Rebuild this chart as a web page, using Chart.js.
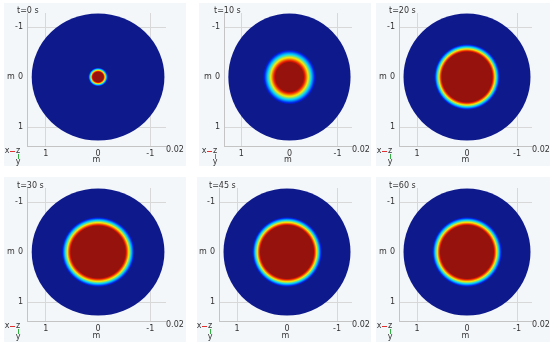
<!DOCTYPE html>
<html>
<head>
<meta charset="utf-8">
<script src="https://cdn.jsdelivr.net/npm/chart.js@4.4.1/dist/chart.umd.min.js"></script>
<style>
  html, body { margin: 0; padding: 0; background: #fff; }
  body { width: 550px; height: 345px; position: relative; overflow: hidden; }
  canvas { position: absolute; background: #f4f7fa; }
</style>
</head>
<body>
<script>
// values (lengths in units of 0.02 m)
const timeLabels = ['t=0 s', 't=10 s', 't=20 s', 't=30 s', 't=45 s', 't=60 s'];
const hotCoreRadius = [0.10, 0.29, 0.50, 0.52, 0.53, 0.53];
const hotEdgeRadius = [0.19, 0.55, 0.66, 0.70, 0.70, 0.70];
const diskRadius = 1.27;
const xTickValues = [1, 0, -1];
const yTickValues = [-1, 0, 1];
const lengthScale = '0.02';
const unitLabel = 'm';

// where each plot sits on the page
const panels = [
  {left: 4,   top: 3,   width: 182, height: 163, yw: 23, padTop: 10, padRight: 20, xh: 20},
  {left: 199, top: 3,   width: 172, height: 163, yw: 25, padTop: 10, padRight: 19, xh: 20},
  {left: 376, top: 3,   width: 174, height: 163, yw: 23, padTop: 10, padRight: 18, xh: 20},
  {left: 4,   top: 177, width: 182, height: 165, yw: 23, padTop: 11, padRight: 20, xh: 21},
  {left: 197, top: 177, width: 174, height: 165, yw: 22, padTop: 11, padRight: 19, xh: 21},
  {left: 376, top: 177, width: 174, height: 165, yw: 23, padTop: 11, padRight: 18, xh: 21}
];

const FONT = 'DejaVu Sans';
const TEXT = '#333';

// rainbow colour table, 0 = cold, 1 = hot
const jetStops = [
  [0.000, [14, 26, 140]],
  [0.125, [0, 30, 235]],
  [0.375, [0, 215, 255]],
  [0.625, [250, 235, 0]],
  [0.875, [235, 25, 0]],
  [1.000, [150, 18, 12]]
];

function jet(t) {
  for (let k = 1; k < jetStops.length; k++) {
    if (t <= jetStops[k][0]) {
      const [t0, c0] = jetStops[k - 1];
      const [t1, c1] = jetStops[k];
      const f = (t - t0) / (t1 - t0);
      const c = c0.map((v, j) => Math.round(v + (c1[j] - v) * f));
      return `rgb(${c[0]},${c[1]},${c[2]})`;
    }
  }
  const c = jetStops[jetStops.length - 1][1];
  return `rgb(${c[0]},${c[1]},${c[2]})`;
}

function heatDisk(i) {
  return {
    id: 'heatDisk',
    beforeDatasetsDraw(chart) {
      const {ctx, scales: {x, y}} = chart;
      const pt = chart.getDatasetMeta(0).data[0];
      const rx = Math.abs(x.getPixelForValue(diskRadius) - x.getPixelForValue(0));
      const ry = Math.abs(y.getPixelForValue(diskRadius) - y.getPixelForValue(0));
      const a = hotCoreRadius[i] / diskRadius;
      const b = hotEdgeRadius[i] / diskRadius;
      ctx.save();
      ctx.translate(pt.x, pt.y);
      ctx.scale(rx, ry);
      const g = ctx.createRadialGradient(0, 0, 0, 0, 0, 1);
      g.addColorStop(0, jet(1));
      for (let k = 0; k <= 20; k++) {
        const t = k / 20;
        g.addColorStop(a + (b - a) * t, jet(1 - t));
      }
      g.addColorStop(1, jet(0));
      ctx.beginPath();
      ctx.arc(0, 0, 1, 0, Math.PI * 2);
      ctx.fillStyle = g;
      ctx.fill();
      ctx.restore();
    },
    afterDraw(chart) {
      const {ctx, chartArea: area, scales: {y}} = chart;
      ctx.save();
      ctx.font = `8px "${FONT}"`;
      ctx.fillStyle = TEXT;
      ctx.textBaseline = 'middle';
      ctx.textAlign = 'left';
      ctx.fillText(timeLabels[i], area.left - 10, area.top - 2);
      ctx.fillText(lengthScale, area.right, area.bottom + 4);
      ctx.textAlign = 'center';
      ctx.fillText(unitLabel, area.left - 16, y.getPixelForValue(0));
      // little axis triad
      const bx = area.left - 20, by = area.bottom + 5;
      ctx.fillText('x', bx, by);
      ctx.fillText('z', bx + 11, by);
      ctx.fillText('y', bx + 11, by + 11);
      ctx.lineWidth = 1;
      ctx.strokeStyle = '#e03030';
      ctx.beginPath(); ctx.moveTo(bx + 3, by + 0.5); ctx.lineTo(bx + 8, by + 0.5); ctx.stroke();
      ctx.strokeStyle = '#30b040';
      ctx.beginPath(); ctx.moveTo(bx + 11.5, by + 3); ctx.lineTo(bx + 11.5, by + 8); ctx.stroke();
      ctx.restore();
    }
  };
}

panels.forEach((p, i) => {
  const cv = document.createElement('canvas');
  cv.width = p.width;
  cv.height = p.height;
  cv.style.left = p.left + 'px';
  cv.style.top = p.top + 'px';
  document.body.appendChild(cv);

  const gridColor = c => (c.tick && c.tick.value === 0) ? 'rgba(0,0,0,0)' : '#d8d8d8';

  new Chart(cv, {
    type: 'scatter',
    data: {
      datasets: [{
        label: timeLabels[i],
        data: [{x: 0, y: 0}],
        pointRadius: 0
      }]
    },
    options: {
      responsive: false,
      animation: false,
      devicePixelRatio: 1,
      layout: { padding: { left: 0, top: p.padTop, right: p.padRight, bottom: 0 } },
      plugins: { legend: { display: false }, tooltip: { enabled: false } },
      scales: {
        x: {
          type: 'linear', min: -1.3, max: 1.36, reverse: true,
          afterBuildTicks: s => { s.ticks = xTickValues.map(v => ({value: v})); },
          afterFit: s => { s.height = p.xh; },
          ticks: { color: TEXT, font: {size: 8, family: FONT}, padding: 3, maxRotation: 0, callback: v => String(v) },
          grid: { color: gridColor, drawTicks: false },
          border: { color: '#c4c4c4' },
          title: { display: true, text: unitLabel, color: TEXT, font: {size: 8, family: FONT}, padding: {top: 0, bottom: 1} }
        },
        y: {
          type: 'linear', min: -1.28, max: 1.38, reverse: true,
          afterBuildTicks: s => { s.ticks = yTickValues.map(v => ({value: v})); },
          afterFit: s => { s.width = p.yw; },
          ticks: { color: TEXT, font: {size: 8, family: FONT}, padding: 4, callback: v => String(v) },
          grid: { color: gridColor, drawTicks: false },
          border: { color: '#c4c4c4' }
        }
      }
    },
    plugins: [heatDisk(i)]
  });
});
</script>
</body>
</html>
